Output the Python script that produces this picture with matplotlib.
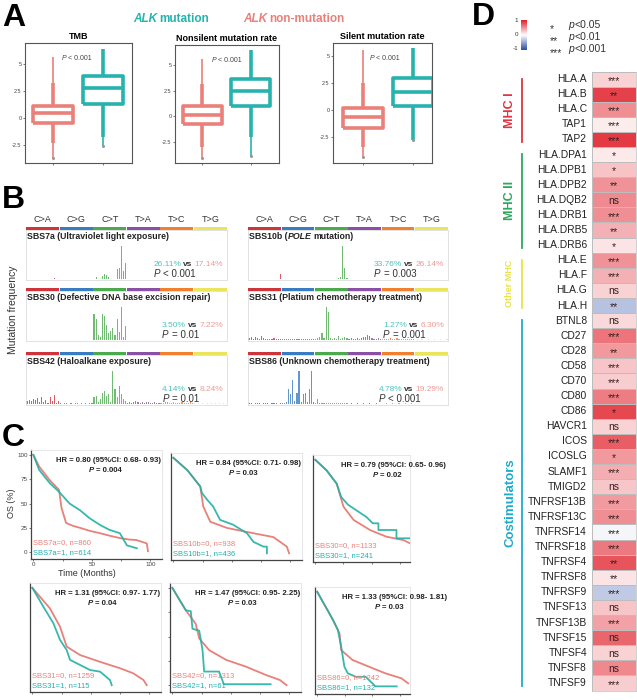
import numpy as np
import matplotlib
matplotlib.use('Agg')
import matplotlib.pyplot as plt
from matplotlib.colors import LinearSegmentedColormap

plt.rcParams['font.family'] = ['Liberation Sans', 'DejaVu Sans']

# ---------------- data ----------------
teal = '#26B3AE'
salmon = '#E9807A'

# panel A: box plot stats, order (non-mutation, mutation)
box_titles = ['TMB', 'Nonsilent mutation rate', 'Silent mutation rate']
box_q1 = [[-0.49, 1.27], [-0.72, 0.98], [-1.64, 0.37]]
box_med = [[0.43, 2.75], [0.16, 2.48], [-0.68, 1.67]]
box_q3 = [[1.11, 3.89], [0.98, 3.63], [0.21, 2.96]]
box_lo = [[-2.35, -1.79], [-3.0, -2.09], [-3.4, -2.78]]
box_hi = [[3.2, 6.3], [3.2, 6.47], [2.5, 5.74]]
flier_lo = [[-3.7, -2.6], [-4.15, -3.9], [-4.3, -2.78]]
flier_hi = [[5.6, 6.3], [5.65, 6.47], [5.56, 5.74]]
box_ylim = [(-4.2, 6.9), (-4.6, 7.0), (-4.9, 6.2)]

# panel B: mutational signatures (relative heights, 6 groups x 16 contexts)
mut_types = ['C>A', 'C>G', 'C>T', 'T>A', 'T>C', 'T>G']
sbs7a = [[0.01, 0.01, 0, 0.01, 0, 0.01, 0, 0, 0.01, 0, 0, 0, 0.01, 0.02, 0, 0.01],
         [0, 0, 0, 0, 0, 0, 0, 0, 0, 0, 0, 0, 0, 0, 0, 0],
         [0, 0.05, 0, 0, 0.1, 0.15, 0.12, 0.05, 0, 0, 0, 0.3, 0.35, 1.0, 0.25, 0.5],
         [0, 0, 0, 0, 0, 0, 0, 0, 0, 0, 0, 0, 0, 0, 0, 0],
         [0.01, 0, 0, 0, 0.01, 0, 0, 0, 0, 0, 0.01, 0, 0, 0, 0, 0],
         [0, 0, 0, 0, 0, 0, 0, 0, 0, 0, 0, 0, 0, 0, 0, 0]]
sbs10b = [[0, 0, 0, 0, 0, 0, 0, 0, 0, 0, 0, 0, 0, 0, 0, 0.14],
          [0, 0, 0, 0, 0, 0, 0, 0, 0, 0, 0, 0, 0, 0, 0, 0],
          [0, 0, 0, 0, 0, 0, 0, 0, 0, 0, 0, 0.02, 0.06, 1.0, 0.35, 0.02],
          [0, 0, 0, 0, 0, 0, 0, 0, 0, 0, 0, 0, 0, 0, 0, 0],
          [0, 0, 0, 0, 0, 0, 0, 0, 0, 0, 0, 0, 0, 0, 0, 0],
          [0, 0, 0, 0, 0, 0, 0, 0, 0, 0, 0, 0, 0, 0, 0, 0]]
sbs30 = [[0, 0, 0, 0, 0, 0, 0, 0, 0, 0, 0, 0, 0, 0, 0, 0],
         [0, 0, 0, 0, 0, 0, 0, 0, 0, 0, 0, 0, 0, 0, 0, 0],
         [0.79, 0.63, 0.16, 0.1, 0.81, 0.74, 0.47, 0.21, 0.28, 0.37, 0.16, 0.63, 0.26, 1.0, 0.1, 0.42],
         [0, 0, 0, 0, 0, 0, 0, 0, 0, 0, 0, 0, 0, 0, 0, 0],
         [0, 0, 0, 0, 0, 0, 0, 0, 0, 0, 0, 0, 0, 0, 0, 0],
         [0, 0, 0, 0, 0, 0, 0, 0, 0, 0, 0, 0, 0, 0, 0, 0]]
sbs31 = [[0.05, 0.08, 0.03, 0.1, 0.06, 0.04, 0.12, 0.05, 0.03, 0.02, 0.04, 0.03, 0.06, 0.02, 0.03, 0.04],
         [0.02, 0.03, 0.02, 0.04, 0.02, 0.03, 0.02, 0.02, 0.03, 0.04, 0.02, 0.03, 0.02, 0.03, 0.02, 0.04],
         [0.04, 0.06, 0.08, 0.2, 0.05, 1.0, 0.85, 0.06, 0.04, 0.05, 0.03, 0.12, 0.04, 0.06, 0.08, 0.05],
         [0.03, 0.05, 0.02, 0.04, 0.06, 0.03, 0.05, 0.08, 0.1, 0.15, 0.12, 0.06, 0.03, 0.04, 0.05, 0.02],
         [0.02, 0.03, 0.04, 0.03, 0.05, 0.02, 0.03, 0.06, 0.03, 0.02, 0.04, 0.03, 0.02, 0.03, 0.02, 0.03],
         [0.01, 0.02, 0.01, 0.02, 0.01, 0.01, 0.02, 0.01, 0.01, 0.02, 0.01, 0.01, 0.02, 0.01, 0.01, 0.02]]
sbs42 = [[0.08, 0.12, 0.1, 0.15, 0.12, 0.18, 0.05, 0.22, 0.05, 0.12, 0.03, 0.2, 0.08, 0.28, 0.03, 0.1],
         [0.02, 0.01, 0.02, 0.03, 0.01, 0.02, 0.01, 0.02, 0.03, 0.01, 0.02, 0.01, 0.02, 0.01, 0.02, 0.03],
         [0.2, 0.25, 0.05, 0.15, 0.35, 0.4, 0.25, 0.3, 0.05, 1.0, 0.45, 0.2, 0.55, 0.3, 0.15, 0.1],
         [0.03, 0.05, 0.04, 0.06, 0.08, 0.05, 0.04, 0.06, 0.03, 0.05, 0.07, 0.04, 0.03, 0.05, 0.04, 0.03],
         [0.04, 0.03, 0.05, 0.06, 0.04, 0.03, 0.05, 0.04, 0.03, 0.04, 0.05, 0.03, 0.04, 0.03, 0.05, 0.04],
         [0.02, 0.01, 0.02, 0.01, 0.02, 0.01, 0.02, 0.01, 0.02, 0.01, 0.02, 0.01, 0.02, 0.01, 0.02, 0.01]]
sbs86 = [[0.02, 0.03, 0.01, 0.02, 0.03, 0.02, 0.01, 0.02, 0.03, 0.02, 0.01, 0.02, 0.03, 0.02, 0.01, 0.02],
         [0.02, 0.03, 0.05, 0.45, 0.3, 0.75, 0.08, 0.35, 1.0, 0.05, 0.3, 0.35, 0.05, 0.45, 1.0, 0.06],
         [0.04, 0.15, 0.03, 0.02, 0.03, 0.04, 0.02, 0.03, 0.02, 0.03, 0.02, 0.03, 0.02, 0.04, 0.03, 0.02],
         [0.01, 0.02, 0.01, 0.01, 0.02, 0.01, 0.01, 0.02, 0.01, 0.01, 0.02, 0.01, 0.01, 0.02, 0.01, 0.01],
         [0.01, 0.01, 0.02, 0.01, 0.01, 0.02, 0.01, 0.01, 0.02, 0.01, 0.01, 0.02, 0.01, 0.01, 0.02, 0.01],
         [0, 0.01, 0, 0.01, 0, 0.01, 0, 0.01, 0, 0.01, 0, 0.01, 0, 0.01, 0, 0.01]]
sig_names = ['SBS7a', 'SBS10b', 'SBS30', 'SBS31', 'SBS42', 'SBS86']
sig_desc = ['Ultraviolet light exposure', 'POLE mutation', 'Defective DNA base excision repair',
            'Platium chemotherapy treatment', 'Haloalkane exposure', 'Unknown chemotherapy treatment']
sig_data = [sbs7a, sbs10b, sbs30, sbs31, sbs42, sbs86]
sig_mut = ['26.11%', '33.76%', '3.50%', '1.27%', '4.14%', '4.78%']
sig_non = ['17.14%', '26.14%', '7.22%', '6.30%', '8.24%', '19.29%']
sig_p = ['< 0.001', '= 0.003', '= 0.01', '= 0.001', '= 0.01', '< 0.001']

# panel C: Kaplan-Meier curves (time in months, OS %)
km_t0 = [[0, 5, 14, 22, 24, 28, 34, 40, 48, 57, 65, 74, 82, 88, 97, 98],
         [0, 12, 23, 25.6, 31.6, 46, 68.5, 85.5, 97, 99],
         [0, 10, 19, 25, 34, 48.5, 63, 78, 84],
         [0, 15, 23.7, 29.4, 40.8, 57.9, 75, 86.3, 95, 97.8],
         [0, 11.5, 20, 23, 31.5, 46, 63, 80, 92, 97.7],
         [0, 14.3, 20.2, 21.7, 32, 46.8, 61.6, 76.3, 82.3]]
km_s0 = [[100, 88, 74, 64, 46, 30, 27, 25, 22, 19.5, 17, 14.5, 13, 12.5, 9, 1],
         [100, 87, 70, 49, 33, 26.5, 21, 17, 7, 0],
         [100, 89, 75, 51, 37, 26.5, 19.5, 16, 12.6],
         [100, 79, 60, 39.6, 31, 24, 17.4, 12.2, 5.3, 0],
         [100, 77, 63, 48, 36, 26, 19, 10.5, 5.3, 0],
         [100, 70.5, 56.5, 39, 28.6, 21.6, 14.7, 9.4, 4.2]]
km_t1 = [[0, 5, 14, 22, 31, 40, 48, 57, 65, 74, 80, 88.5],
         [0, 12, 23, 24.5, 29, 34, 40, 51, 63, 68.5, 77, 80, 80],
         [0, 10, 19, 23, 29, 36.6, 45.5, 51, 56, 56, 72, 72, 84],
         [0, 9.4, 18, 23.7, 29.4, 32.2, 40.8, 49.3, 57.9, 66.4, 67.9],
         [0, 11.5, 15.8, 17.2, 23, 25.8, 27.2, 40, 44, 84],
         [0, 14.3, 18.7, 21.7, 24.6, 27.6, 35, 43.9, 52.7, 72]]
km_s1 = [[100, 84.5, 71, 62, 50, 43, 35, 28, 23, 19.5, 7, 4],
         [100, 87, 70, 63, 56, 49, 35, 30, 21, 12, 7, 7, 0],
         [100, 89, 75, 61, 53, 47, 40, 33.5, 33.5, 26.5, 26.5, 17.8, 17.8],
         [100, 80.7, 63.6, 46.5, 36, 26, 20.8, 15.6, 13.9, 5.3, 0],
         [100, 77, 76, 58, 56, 36, 14, 14, 1, 1],
         [100, 70.5, 60, 42.5, 21.6, 14.7, 11, 11, 1, 1]]
km_hr = ['HR = 0.80 (95%CI: 0.68- 0.93)', 'HR = 0.84 (95%CI: 0.71- 0.98)', 'HR = 0.79 (95%CI: 0.65- 0.96)',
         'HR = 1.31 (95%CI: 0.97- 1.77)', 'HR = 1.47 (95%CI: 0.95- 2.25)', 'HR = 1.33 (95%CI: 0.98- 1.81)']
km_p = ['= 0.004', '= 0.03', '= 0.02', '= 0.04', '= 0.03', '= 0.03']
km_n0 = ['SBS7a=0, n=860', 'SBS10b=0, n=938', 'SBS30=0, n=1133',
         'SBS31=0, n=1259', 'SBS42=0, n=1313', 'SBS86=0, n=1242']
km_n1 = ['SBS7a=1, n=614', 'SBS10b=1, n=436', 'SBS30=1, n=241',
         'SBS31=1, n=115', 'SBS42=1, n=61', 'SBS86=1, n=132']
km_xmax = [110, 110, 84, 110, 110, 84]

# panel D: correlation heatmap
genes = ['HLA.A', 'HLA.B', 'HLA.C', 'TAP1', 'TAP2', 'HLA.DPA1', 'HLA.DPB1', 'HLA.DPB2', 'HLA.DQB2',
         'HLA.DRB1', 'HLA.DRB5', 'HLA.DRB6', 'HLA.E', 'HLA.F', 'HLA.G', 'HLA.H', 'BTNL8', 'CD27',
         'CD28', 'CD58', 'CD70', 'CD80', 'CD86', 'HAVCR1', 'ICOS', 'ICOSLG', 'SLAMF1', 'TMIGD2',
         'TNFRSF13B', 'TNFRSF13C', 'TNFRSF14', 'TNFRSF18', 'TNFRSF4', 'TNFRSF8', 'TNFRSF9',
         'TNFSF13', 'TNFSF13B', 'TNFSF15', 'TNFSF4', 'TNFSF8', 'TNFSF9']
corr = [0.2, 0.85, 0.5, 0.08, 0.88, 0.1, 0.27, 0.48, 0.52, 0.5, 0.35, 0.12, 0.48, 0.35, 0.2, -0.35,
        0.17, 0.62, 0.46, 0.26, 0.22, 0.58, 0.82, 0.2, 0.72, 0.46, 0.36, 0.25, 0.45, 0.5, -0.05,
        0.6, 0.76, 0.12, -0.3, 0.26, 0.42, 0.68, 0.2, 0.53, 0.22]
signif = ['***', '**', '***', '***', '***', '*', '*', '**', 'ns', '***', '**', '*', '***', '***', 'ns',
          '**', 'ns', '***', '**', '***', '***', '***', '*', 'ns', '***', '*', '***', 'ns', '***', '***',
          '***', '***', '**', '**', '***', 'ns', '***', 'ns', 'ns', 'ns', '***']
groups = ['MHC I', 'MHC II', 'Other MHC', 'Costimulators']
group_rows = [(0, 4), (5, 11), (12, 15), (16, 40)]
group_colors = ['#E0353F', '#2CA85A', '#E8E24A', '#1FAACB']

# ---------------- figure ----------------
W, H = 637, 700
fig = plt.figure(figsize=(W / 100, H / 100), dpi=100)
rend = fig.canvas.get_renderer()


def rect(l, t, r, b):
    return [l / W, 1 - b / H, (r - l) / W, (b - t) / H]


def ftext(x, y, s, **kw):
    return fig.text(x / W, 1 - y / H, s, **kw)


def rich(x, y, parts, ha='left', gap=2.5, va='baseline'):
    # draw text pieces side by side, gap may be one number or one per join
    ts = [fig.text(0, 0, s, va=va, ha='left', **p) for s, p in parts]
    ws = [t.get_window_extent(rend).width for t in ts]
    gaps = list(gap) if isinstance(gap, (list, tuple)) else [gap] * (len(ts) - 1)
    total = sum(ws) + sum(gaps)
    x0 = x - {'left': 0, 'center': total / 2, 'right': total}[ha]
    start = x0
    for t, w, g in zip(ts, ws, gaps + [0]):
        t.set_position((x0 / W, 1 - y / H))
        x0 += w + g
    return start


for lab, (x, y) in zip('ABCD', [(2, 3), (2, 185), (2, 423), (472, 2)]):
    ftext(x, y, lab, fontsize=23, fontweight='bold', va='top')

# ---- panel A ----
rich(133, 22, [('ALK', dict(color=teal, fontsize=8.5, fontweight='bold', style='italic')),
               ('mutation', dict(color=teal, fontsize=8.5, fontweight='bold'))])
rich(243, 22, [('ALK', dict(color=salmon, fontsize=8.5, fontweight='bold', style='italic')),
               ('non-mutation', dict(color=salmon, fontsize=8.5, fontweight='bold'))])

a_rects = [(25, 43, 132, 163), (175, 45, 279, 163), (333, 43, 432, 163)]
a_xlim = [(0.44, 2.58), (0.44, 2.58), (0.4, 2.38)]
for i in range(3):
    ax = fig.add_axes(rect(*a_rects[i]))
    for j, c in enumerate([salmon, teal]):
        st = dict(med=box_med[i][j], q1=box_q1[i][j], q3=box_q3[i][j],
                  whislo=box_lo[i][j], whishi=box_hi[i][j], fliers=[])
        lp = dict(color=c, lw=2.6, solid_capstyle='butt')
        ax.bxp([st], positions=[j + 1], widths=0.8, showfliers=False, showcaps=False,
               boxprops=lp, whiskerprops=lp, medianprops=lp)
        ax.vlines(j + 1, box_hi[i][j], flier_hi[i][j], color=c, lw=1.2)
        ax.vlines(j + 1, flier_lo[i][j], box_lo[i][j], color=c, lw=1.2)
        ax.plot([j + 1], [flier_lo[i][j]], 'o', ms=1.2, color='#999999')
    ax.set_xlim(*a_xlim[i])
    ax.set_ylim(*box_ylim[i])
    ax.set_yticks([-2.5, 0, 2.5, 5])
    ax.set_yticklabels(['-2.5', '0', '2.5', '5'])
    ax.set_xticks([1, 2])
    ax.set_xticklabels(['', ''])
    ax.tick_params(labelsize=4, length=1.5, width=0.5, pad=1, colors='#444444')
    for s in ax.spines.values():
        s.set_color('#555555')
        s.set_linewidth(0.8)
    ax.set_title(box_titles[i], fontsize=6.5, fontweight='bold', pad=3)
    l, t, r, b = a_rects[i]
    rich(l + 37, t + 17, [('P', dict(fontsize=5, style='italic', color='#444444')),
                          ('< 0.001', dict(fontsize=5, color='#444444'))], gap=1.5)

# ---- panel B ----
ftext(13, 310, 'Mutation frequency', rotation=90, fontsize=7.5, color='#333333', ha='center', va='center')
bar_colors = ['#D0343B', '#3A7CC2', '#4DA94D', '#8A50A6', '#F0802E', '#EAE55C']
col_x = [(26, 227), (248, 448)]
row_top = [227, 288, 352]
row_bot = [280, 341, 405]
for k in range(6):
    c, r = k % 2, k // 2
    l, rr = col_x[c]
    top, bot = row_top[r], row_bot[r]
    axb = fig.add_axes(rect(l, top, rr, top + 3))
    for g in range(6):
        axb.bar(g * 16 + 7.5, 1, width=15.6, color=bar_colors[g])
    axb.set_xlim(-0.5, 95.5)
    axb.set_ylim(0, 1)
    axb.axis('off')
    if r == 0:
        for g in range(6):
            axb.text(g * 16 + 7.5, 2.0, mut_types[g], ha='center', va='bottom',
                     fontsize=6.5, color='#333333')
    ax = fig.add_axes(rect(l, top + 3, rr, bot))
    vals = np.array(sig_data[k]).ravel()
    cols = [bar_colors[g] for g in range(6) for _ in range(16)]
    ax.bar(np.arange(96), vals, width=0.55, color=cols, alpha=0.8)
    ax.set_xlim(-0.5, 95.5)
    ax.set_ylim(-0.03, 1.5)
    ax.set_xticks([])
    ax.set_yticks([])
    for s in ax.spines.values():
        s.set_color('#DDDDDD')
        s.set_linewidth(0.6)
    tp = dict(fontsize=6.3, fontweight='bold', color='#222222')
    if sig_names[k] == 'SBS10b':
        rich(l + 1, top + 12, [('SBS10b (', tp), ('POLE', dict(tp, style='italic')),
                               ('mutation)', tp)], gap=[0, 1.8])
    else:
        ftext(l + 1, top + 12, '%s (%s)' % (sig_names[k], sig_desc[k]), va='baseline', **tp)
    x0 = rich(rr - 4, bot - 14, [(sig_mut[k], dict(fontsize=6, color='#4CC3C0')),
                                 ('vs', dict(fontsize=6, color='#333333', fontweight='bold')),
                                 (sig_non[k], dict(fontsize=6, color='#EE9A96'))], ha='right', gap=2)
    rich(x0, bot - 3, [('P', dict(fontsize=7, style='italic', color='#333333')),
                       (sig_p[k], dict(fontsize=7, color='#333333'))], gap=3)

# ---- panel C ----
ftext(12, 503, 'OS (%)', rotation=90, fontsize=6.5, color='#333333', ha='center', va='center')
ftext(87, 573, 'Time (Months)', fontsize=6.5, color='#333333', ha='center', va='center')
c_rects = [(31, 450, 162, 559), (171, 453, 302, 560), (313, 455, 410, 562),
           (30, 583, 161, 692), (170, 583, 301, 692), (315, 587, 410, 694)]
for i in range(6):
    l, t, r, b = c_rects[i]
    ax = fig.add_axes(rect(l, t, r, b))
    ax.plot(km_t0[i], km_s0[i], color=salmon, lw=1.3)
    ax.plot(km_t1[i], km_s1[i], color='#22B0A4', lw=1.3, alpha=0.9)
    ax.set_xlim(-2, km_xmax[i])
    ax.set_ylim(-7, 105)
    for side in ['top', 'right']:
        ax.spines[side].set_color('#E3E3E3')
        ax.spines[side].set_linewidth(0.6)
    for side in ['left', 'bottom']:
        ax.spines[side].set_color('#444444')
        ax.spines[side].set_linewidth(0.9)
    ax.set_xticks([0, 25, 50, 75, 100] if km_xmax[i] > 100 else [0, 25, 50, 75])
    if i == 0:
        ax.set_xticklabels(['0', '', '50', '', '100'])
        ax.set_yticks([0, 25, 50, 75, 100])
        ax.set_yticklabels(['0', '25', '50', '75', '100'])
    elif i == 4:
        ax.set_xticklabels([])
        ax.set_yticks([0, 25, 50, 75, 100])
        ax.set_yticklabels([])
    else:
        ax.set_xticklabels([])
        ax.set_yticks([])
    ax.tick_params(labelsize=4.5, length=1.5, width=0.5, pad=1, colors='#444444')
    cx = (l + r) / 2 + 12 if km_xmax[i] > 100 else l + 80
    hp = dict(fontsize=5.6, fontweight='bold', color='#222222')
    ftext(cx, t + 12, km_hr[i], ha='center', va='baseline', **hp)
    rich(cx - 20, t + 22, [('P', dict(hp, style='italic')), (km_p[i], hp)], gap=2)
    ftext(l + 2, b - 15, km_n0[i], fontsize=5.5, color=salmon, va='baseline')
    ftext(l + 2, b - 5, km_n1[i], fontsize=5.5, color='#1FB0B0', va='baseline')

# ---- panel D ----
cmap = LinearSegmentedColormap.from_list('bwr2', ['#2E4FA6', '#FFFFFF', '#E0202A'])
axc = fig.add_axes(rect(521, 20, 527, 50))
axc.imshow(np.linspace(1, -1, 60).reshape(-1, 1), cmap=cmap, vmin=-1, vmax=1, aspect='auto')
axc.axis('off')
for v, y in zip(['1', '0', '-1'], [21, 35, 48]):
    ftext(518, y, v, fontsize=4.5, ha='right', va='center', color='#333333')
for st, pv, y in zip(['*', '**', '***'], ['<0.05', '<0.01', '<0.001'], [25, 37, 49]):
    ftext(550, y + 7, st, fontsize=7.5, va='baseline', color='#333333')
    rich(568, y + 3, [('p', dict(fontsize=7.5, style='italic', color='#333333')),
                      (pv, dict(fontsize=7.5, color='#333333'))], gap=1)

top_h, bot_h = 71.5, 690.5
axh = fig.add_axes(rect(592, top_h, 636, bot_h))
axh.pcolormesh(np.array(corr).reshape(-1, 1), cmap=cmap, vmin=-1, vmax=1,
               edgecolors='#BDBDBD', linewidth=0.5)
axh.set_ylim(len(genes), 0)
axh.set_xlim(0, 1)
axh.set_xticks([])
axh.set_yticks([])
for s in axh.spines.values():
    s.set_color('#BDBDBD')
    s.set_linewidth(0.5)
for i, lab in enumerate(signif):
    if lab == 'ns':
        axh.text(0.5, i + 0.55, lab, ha='center', va='center', fontsize=7.5, color='#3A2020')
    else:
        axh.text(0.5, i + 0.62, lab, ha='center', va='center', fontsize=7.5, color='#3A2020')
rowh = (bot_h - top_h) / len(genes)
for i, g in enumerate(genes):
    ftext(587, top_h + (i + 0.5) * rowh, g, ha='right', va='center', fontsize=7.4, color='#222222')
for g, (r0, r1), col in zip(groups, group_rows, group_colors):
    y0 = top_h + r0 * rowh + 7
    y1 = top_h + (r1 + 1) * rowh - 5
    fig.add_artist(plt.Line2D([522 / W, 522 / W], [1 - y0 / H, 1 - y1 / H], color=col, lw=1.3))
    fs = 6.5 if g == 'Other MHC' else (9.5 if g == 'Costimulators' else 9)
    ftext(510, (y0 + y1) / 2, g, rotation=90, ha='center', va='center', fontsize=fs,
          fontweight='bold', color=col)

fig.savefig('out.png', dpi=100)
